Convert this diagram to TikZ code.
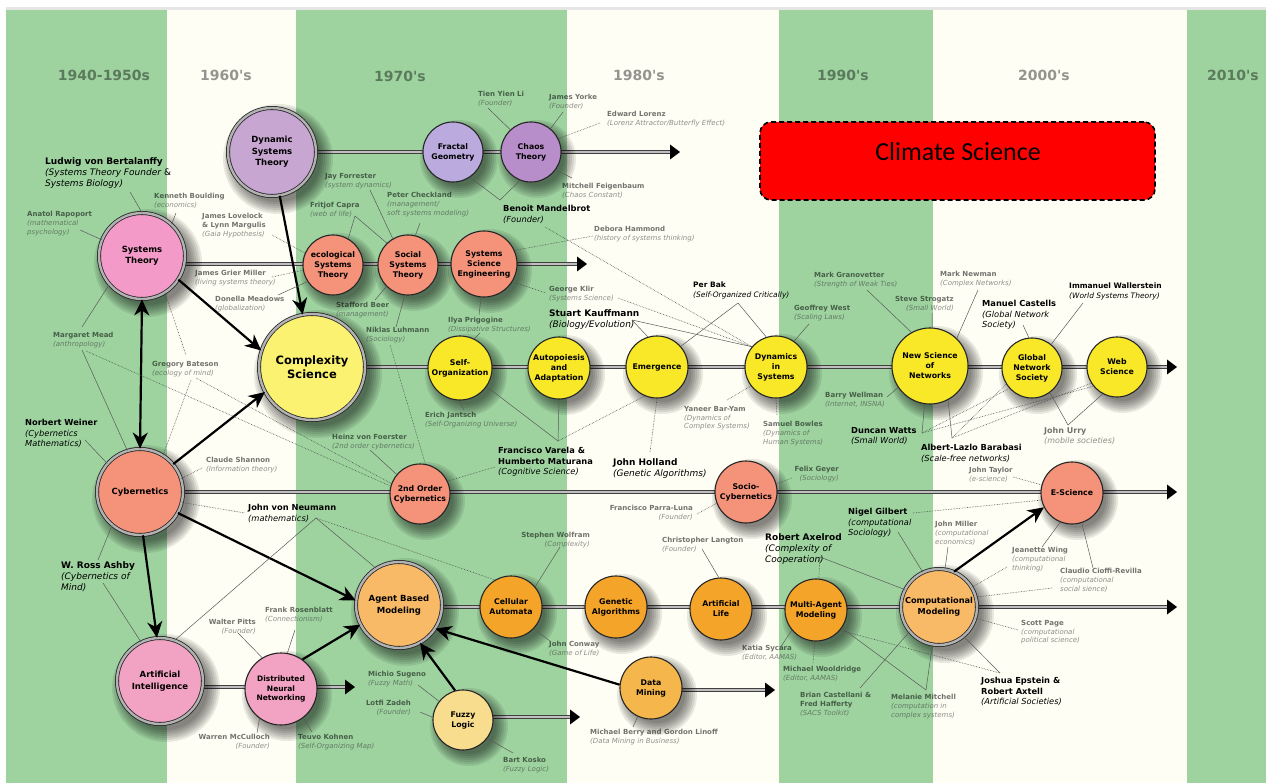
\documentclass[tikz,border=0pt]{standalone}
\usepackage{fontspec}
\setmainfont{DejaVu Sans}
\newfontfamily\decfont{DejaVu Sans}
\newfontfamily\calib{Carlito}
\usetikzlibrary{arrows.meta}
\definecolor{bgreen}{RGB}{158,211,160}
\definecolor{bcream}{RGB}{255,254,244}
\definecolor{cdst}{RGB}{200,166,210}
\definecolor{cfrac}{RGB}{186,170,222}
\definecolor{cchaos}{RGB}{184,142,202}
\definecolor{cpink}{RGB}{244,154,200}
\definecolor{csalmon}{RGB}{244,146,122}
\definecolor{ccplx}{RGB}{250,242,112}
\definecolor{cyel}{RGB}{248,232,40}
\definecolor{clor}{RGB}{248,186,102}
\definecolor{corange}{RGB}{245,164,42}
\definecolor{cdm}{RGB}{245,182,76}
\definecolor{cai}{RGB}{242,162,194}
\definecolor{cfuzzy}{RGB}{249,221,142}
\newcommand\dsc[1]{{\mdseries\itshape\color{black!80}#1}}
\newcommand\bdsc[1]{{\mdseries\itshape #1}}
\newcommand\shd[2]{\foreach \k in {0,...,6}{\fill[black, opacity=0.085] ([shift={(6,7)}]#1) circle [radius={(#2-3+2*\k)*1pt}];}}
\newcommand\railtip[1]{\fill (#1) -- ++(0,-7.5) -- ++(10,7.5) -- ++(-10,7.5) -- cycle;}
\tikzset{
 dec/.style={font=\decfont\fontsize{14}{16}\selectfont\bfseries, text=black, text opacity=0.42},
 circ/.style={circle, draw=black!85, line width=1.1pt, inner sep=0pt, align=center,
   font=\fontsize{7.8}{10}\selectfont\bfseries},
 bigc/.style={double=black!30, double distance=2.4pt, line width=0.8pt, font=\fontsize{8.5}{11.5}\selectfont\bfseries},
 gl/.style={anchor=north west, align=left, inner sep=0pt, font=\fontsize{7}{8.8}\selectfont\bfseries, text=black, text opacity=0.55},
 glr/.style={gl, anchor=north east, align=right},
 bl/.style={anchor=north west, align=left, inner sep=0pt, font=\fontsize{8.3}{10.5}\selectfont\bfseries, text=black},
 blbig/.style={bl, font=\fontsize{9}{11.3}\selectfont\bfseries},
 pl/.style={draw=black!65, line width=0.5pt},
 pd/.style={draw=black!70, line width=0.6pt, densely dotted},
 rail/.style={draw=black!75, line width=1pt, double=black!25, double distance=2pt},
 barrow/.style={draw=black, line width=2.2pt, -{Stealth[length=16pt,width=15pt,inset=5pt]}},
 barrow2/.style={draw=black, line width=2.2pt, {Stealth[length=16pt,width=15pt,inset=5pt]}-{Stealth[length=16pt,width=15pt,inset=5pt]}},
 climbox/.style={draw=black, line width=1.6pt, dash pattern=on 5pt off 3pt, fill=red, rounded corners=11pt, minimum width=395pt, minimum height=78pt, inner sep=0pt},
}
\begin{document}
\begin{tikzpicture}[x=1pt,y=-1pt]
\useasboundingbox (0,0) rectangle (1266,783);
\fill[white] (0,0) rectangle (1266,783);
\fill[black!10] (6,7.5) rectangle (1266,10);
\fill[bgreen] (6,10) rectangle (167,783);
\fill[bcream] (167,10) rectangle (296,783);
\fill[bgreen] (296,10) rectangle (567,783);
\fill[bcream] (567,10) rectangle (779,783);
\fill[bgreen] (779,10) rectangle (933,783);
\fill[bcream] (933,10) rectangle (1187,783);
\fill[bgreen] (1187,10) rectangle (1266,783);

% decades
\node[dec] (d40) at (104,75) {1940-1950s};
\node[dec] (d60) at (226,75) {1960's};
\node[dec] (d70) at (400,76) {1970's};
\node[dec] (d80) at (639,75) {1980's};
\node[dec] (d90) at (843,75) {1990's};
\node[dec] (d00) at (1044,75) {2000's};
\node[dec] (d10) at (1233,75) {2010's};

% climate box
\node[climbox] (clim) at (957.5,161) {};
\node[font=\calib\fontsize{26}{30}\selectfont] (climt) at (958,152) {Climate Science};

% circle centres
\coordinate (p-dst) at (272,152);
\coordinate (p-frac) at (453,152);
\coordinate (p-chaos) at (531,152);
\coordinate (p-sysT) at (142,256);
\coordinate (p-eco) at (333,265);
\coordinate (p-soc) at (408,265);
\coordinate (p-sse) at (484,264);
\coordinate (p-cplx) at (312,367);
\coordinate (p-selfo) at (460,368);
\coordinate (p-auto) at (559,368);
\coordinate (p-emer) at (657,367);
\coordinate (p-dyn) at (776,367);
\coordinate (p-nsn) at (930,366);
\coordinate (p-gns) at (1032,368);
\coordinate (p-web) at (1117,367);
\coordinate (p-cyb) at (140,492);
\coordinate (p-soc2) at (420,494);
\coordinate (p-socio) at (746,492);
\coordinate (p-esci) at (1072,493);
\coordinate (p-abm) at (399,605);
\coordinate (p-ca) at (511,607);
\coordinate (p-ga) at (616,607);
\coordinate (p-al) at (721,609);
\coordinate (p-mam) at (816,610);
\coordinate (p-cm) at (939,607);
\coordinate (p-dm) at (651,688);
\coordinate (p-ai) at (160,681);
\coordinate (p-dnn) at (281,689);
\coordinate (p-fuzzy) at (463,720);

% rails
\coordinate (r1e) at (670,152);
\draw[rail] (p-dst) -- (r1e); \railtip{r1e}
\coordinate (r2s) at (170,264); \coordinate (r2e) at (577,264);
\draw[rail] (r2s) -- (r2e); \railtip{r2e}
\coordinate (r3e) at (1167,367);
\draw[rail] (p-cplx) -- (r3e); \railtip{r3e}
\coordinate (r4e) at (1167,492);
\draw[rail] (p-cyb) -- (r4e); \railtip{r4e}
\coordinate (r5s) at (400,607); \coordinate (r5e) at (1167,607);
\draw[rail] (r5s) -- (r5e); \railtip{r5e}
\coordinate (r6s) at (165,687); \coordinate (r6e) at (345,687);
\draw[rail] (r6s) -- (r6e); \railtip{r6e}
\coordinate (r7s) at (465,717); \coordinate (r7e) at (570,717);
\draw[rail] (r7s) -- (r7e); \railtip{r7e}
\coordinate (r8s) at (651,690); \coordinate (r8e) at (765,690);
\draw[rail] (r8s) -- (r8e); \railtip{r8e}

% shadows
\shd{p-dst}{46} \shd{p-frac}{30} \shd{p-chaos}{30} \shd{p-sysT}{45}
\shd{p-eco}{30} \shd{p-soc}{30} \shd{p-sse}{33} \shd{p-cplx}{55}
\shd{p-selfo}{32} \shd{p-auto}{31} \shd{p-emer}{31} \shd{p-dyn}{31}
\shd{p-nsn}{38} \shd{p-gns}{30} \shd{p-web}{30} \shd{p-cyb}{45}
\shd{p-soc2}{30} \shd{p-socio}{31} \shd{p-esci}{31} \shd{p-abm}{45}
\shd{p-ca}{31} \shd{p-ga}{31} \shd{p-al}{31} \shd{p-mam}{31}
\shd{p-cm}{40} \shd{p-dm}{31} \shd{p-ai}{45} \shd{p-dnn}{36} \shd{p-fuzzy}{30}

% circles
\node[circ, bigc, fill=cdst, minimum size=88pt] (dst) at (p-dst) {Dynamic\\Systems\\Theory};
\node[circ, fill=cfrac, minimum size=60pt] (frac) at (p-frac) {Fractal\\Geometry};
\node[circ, fill=cchaos, minimum size=60pt] (chaos) at (p-chaos) {Chaos\\Theory};
\node[circ, bigc, fill=cpink, minimum size=86pt] (sysT) at (p-sysT) {Systems\\Theory};
\node[circ, fill=csalmon, minimum size=60pt] (eco) at (p-eco) {ecological\\Systems\\Theory};
\node[circ, fill=csalmon, minimum size=60pt] (soc) at (p-soc) {Social\\Systems\\Theory};
\node[circ, fill=csalmon, minimum size=66pt] (sse) at (p-sse) {Systems\\Science\\Engineering};
\node[circ, bigc, fill=ccplx, minimum size=106pt, font=\fontsize{11.5}{13.5}\selectfont\bfseries] (cplx) at (p-cplx) {Complexity\\Science};
\node[circ, fill=cyel, minimum size=64pt] (selfo) at (p-selfo) {Self-\\Organization};
\node[circ, fill=cyel, minimum size=62pt] (auto) at (p-auto) {Autopoiesis\\and\\Adaptation};
\node[circ, fill=cyel, minimum size=62pt] (emer) at (p-emer) {Emergence};
\node[circ, fill=cyel, minimum size=62pt] (dyn) at (p-dyn) {Dynamics\\in\\Systems};
\node[circ, fill=cyel, minimum size=76pt] (nsn) at (p-nsn) {New Science\\of\\Networks};
\node[circ, fill=cyel, minimum size=60pt] (gns) at (p-gns) {Global\\Network\\Society};
\node[circ, fill=cyel, minimum size=60pt] (web) at (p-web) {Web\\Science};
\node[circ, bigc, fill=csalmon, minimum size=86pt] (cyb) at (p-cyb) {Cybernetics};
\node[circ, fill=csalmon, minimum size=60pt] (soc2) at (p-soc2) {2nd Order\\Cybernetics};
\node[circ, fill=csalmon, minimum size=62pt] (socio) at (p-socio) {Socio-\\Cybernetics};
\node[circ, fill=csalmon, minimum size=62pt] (esci) at (p-esci) {E-Science};
\node[circ, bigc, fill=clor, minimum size=86pt] (abm) at (p-abm) {Agent Based\\Modeling};
\node[circ, fill=corange, minimum size=62pt] (ca) at (p-ca) {Cellular\\Automata};
\node[circ, fill=corange, minimum size=62pt] (ga) at (p-ga) {Genetic\\Algorithms};
\node[circ, fill=corange, minimum size=62pt] (al) at (p-al) {Artificial\\Life};
\node[circ, fill=corange, minimum size=62pt] (mam) at (p-mam) {Multi-Agent\\Modeling};
\node[circ, bigc, fill=clor, minimum size=76pt, font=\fontsize{8.2}{11}\selectfont\bfseries] (cm) at (p-cm) {Computational\\Modeling};
\node[circ, fill=cdm, minimum size=62pt] (dm) at (p-dm) {Data\\Mining};
\node[circ, bigc, fill=cai, minimum size=86pt] (ai) at (p-ai) {Artificial\\Intelligence};
\node[circ, fill=cai, minimum size=72pt, font=\fontsize{7.5}{9.5}\selectfont\bfseries] (dnn) at (p-dnn) {Distributed\\Neural\\Networking};
\node[circ, fill=cfuzzy, minimum size=60pt] (fuzzy) at (p-fuzzy) {Fuzzy\\Logic};

% big arrows
\draw[barrow] (dst.280) -- (cplx.100);
\draw[barrow] (sysT.-33) -- (cplx.162);
\draw[barrow2] (sysT.south) -- (cyb.north);
\draw[barrow] (cyb.40) -- (cplx.208);
\draw[barrow] (cyb.-29) -- (abm.174);
\draw[barrow] (cyb.-86) -- (ai.94);
\draw[barrow] (dnn.54) -- (abm.207);
\draw[barrow] (fuzzy.105) -- (abm.-61);
\draw[barrow] (dm.174) -- (abm.-33);
\draw[barrow] (cm.67) -- (esci.207);

% gray labels
\node[gl] (tien) at (478,91) {Tien Yien Li\\\dsc{(Founder)}};
\node[gl] (yorke) at (549,94) {James Yorke\\\dsc{(Founder)}};
\node[gl] (lorenz) at (607,111) {Edward Lorenz\\\dsc{(Lorenz Attractor/Butterfly Effect)}};
\node[gl] (feig) at (562,183) {Mitchell Feigenbaum\\\dsc{(Chaos Constant)}};
\node[gl] (forr) at (325,173) {Jay Forrester\\\dsc{(system dynamics)}};
\node[gl] (capra) at (310,202) {Fritjof Capra\\\dsc{(web of life)}};
\node[gl] (check) at (387,192) {Peter Checkland\\\dsc{(management/}\\\dsc{soft systems modeling)}};
\node[gl] (hammond) at (594,226) {Debora Hammond\\\dsc{(history of systems thinking)}};
\node[gl] (boulding) at (154,193) {Kenneth Boulding\\\dsc{(economics)}};
\node[gl] (rapoport) at (27,211) {Anatol Rapoport\\\dsc{(mathematical}\\\dsc{psychology)}};
\node[gl] (lovelock) at (202,213) {James Lovelock\\\& Lynn Margulis\\\dsc{(Gaia Hypothesis)}};
\node[gl] (jgmiller) at (195,270) {James Grier Miller\\\dsc{(living systems theory)}};
\node[gl] (meadows) at (215,296) {Donella Meadows\\\dsc{(globalization)}};
\node[gl] (beer) at (336,302) {Stafford Beer\\\dsc{(management)}};
\node[gl] (luhmann) at (366,327) {Niklas Luhmann\\\dsc{(Sociology)}};
\node[gl] (prig) at (448,317) {Ilya Prigogine\\\dsc{(Dissipative Structures)}};
\node[gl] (klir) at (549,286) {George Klir\\\dsc{(Systems Science)}};
\node[gl] (gran) at (814,272) {Mark Granovetter\\\dsc{(Strength of Weak Ties)}};
\node[gl] (west) at (794,305) {Geoffrey West\\\dsc{(Scaling Laws)}};
\node[glr] (strog) at (954,296) {Steve Strogatz\\\dsc{(Small World)}};
\node[gl] (newman) at (940,271) {Mark Newman\\\dsc{(Complex Networks)}};
\node[gl] (wellman) at (825,392) {Barry Wellman\\\dsc{(Internet, INSNA)}};
\node[gl] (bowles) at (763,421) {Samuel Bowles\\\dsc{(Dynamics of}\\\dsc{Human Systems)}};
\node[gl] (baryam) at (684,406) {Yaneer Bar-Yam\\\dsc{(Dynamics of}\\\dsc{Complex Systems)}};
\node[gl] (jantsch) at (425,412) {Erich Jantsch\\\dsc{(Self-Organizing Universe)}};
\node[gl] (foerster) at (332,434) {Heinz von Foerster\\\dsc{(2nd order cybernetics)}};
\node[gl] (bateson) at (152,361) {Gregory Bateson\\\dsc{(ecology of mind)}};
\node[gl] (mead) at (53,332) {Margaret Mead\\\dsc{(anthropology)}};
\node[gl] (shannon) at (206,457) {Claude Shannon\\\dsc{(Information theory)}};
\node[gl, font=\fontsize{8}{10.5}\selectfont\bfseries] (urry) at (1044,427) {John Urry\\\dsc{(mobile societies)}};
\node[gl] (taylor) at (969,467) {John Taylor\\\dsc{(e-science)}};
\node[glr] (pitts) at (256,619) {Walter Pitts\\\dsc{(Founder)}};
\node[gl] (rosen) at (265,607) {Frank Rosenblatt\\\dsc{(Connectionism)}};
\node[glr] (mcc) at (270,734) {Warren McCulloch\\\dsc{(Founder)}};
\node[gl] (kohnen) at (298,734) {Teuvo Kohnen\\\dsc{(Self-Organizing Map)}};
\node[gl] (sugeno) at (368,671) {Michio Sugeno\\\dsc{(Fuzzy Math)}};
\node[glr] (zadeh) at (411,700) {Lotfi Zadeh\\\dsc{(Founder)}};
\node[gl] (kosko) at (503,757) {Bart Kosko\\\dsc{(Fuzzy Logic)}};
\node[glr] (wolfram) at (590,532) {Stephen Wolfram\\\dsc{(Complexity)}};
\node[gl] (conway) at (549,641) {John Conway\\\dsc{(Game of Life)}};
\node[gl] (berry) at (590,729) {Michael Berry and Gordon Linoff\\\dsc{(Data Mining in Business)}};
\node[glr] (parra) at (693,505) {Francisco Parra-Luna\\\dsc{(Founder)}};
\node[glr] (geyer) at (839,466) {Felix Geyer\\\dsc{(Sociology)}};
\node[gl] (langton) at (662,537) {Christopher Langton\\\dsc{(Founder)}};
\node[gl] (jmiller) at (935,521) {John Miller\\\dsc{(computational}\\\dsc{economics)}};
\node[gl] (wing) at (1012,547) {Jeanette Wing\\\dsc{(computational}\\\dsc{thinking)}};
\node[gl] (cioffi) at (1060,568) {Claudio Cioffi-Revilla\\\dsc{(computational}\\\dsc{social sience)}};
\node[gl] (page) at (1021,620) {Scott Page\\\dsc{(computational}\\\dsc{political science)}};
\node[gl] (sycara) at (742,645) {Katia Sycara\\\dsc{(Editor, AAMAS)}};
\node[gl] (wool) at (783,666) {Michael Wooldridge\\\dsc{(Editor, AAMAS)}};
\node[gl] (castel) at (800,692) {Brian Castellani \&\\Fred Hafferty\\\dsc{(SACS Toolkit)}};
\node[gl] (mitch) at (891,694) {Melanie Mitchell\\\dsc{(computation in}\\\dsc{complex systems)}};

% black labels
\node[blbig] (bert) at (45,157) {Ludwig von Bertalanffy\\\bdsc{(Systems Theory Founder} {\mdseries\&}\\\bdsc{Systems Biology)}};
\node[bl] (mand) at (503,205) {Benoit Mandelbrot\\\bdsc{(Founder)}};
\node[blbig] (kauff) at (549,309) {Stuart Kauffmann\\\bdsc{(Biology/Evolution)}};
\node[bl, font=\fontsize{7.5}{9.5}\selectfont\bfseries] (bak) at (693,282) {Per Bak\\\bdsc{(Self-Organized Critically)}};
\node[bl] (varela) at (498,447) {Francisco Varela \&\\Humberto Maturana\\\bdsc{(Cognitive Science)}};
\node[blbig] (holland) at (613,458) {John Holland\\\bdsc{(Genetic Algorithms)}};
\node[bl] (weiner) at (25,419) {Norbert Weiner\\\bdsc{(Cybernetics}\\\bdsc{Mathematics)}};
\node[bl] (neumann) at (248,504) {John von Neumann\\\bdsc{(mathematics)}};
\node[blbig] (ashby) at (61,561) {W. Ross Ashby\\\bdsc{(Cybernetics of}\\\bdsc{Mind)}};
\node[bl] (watts) at (851,427) {Duncan Watts\\\bdsc{(Small World)}};
\node[bl] (barab) at (921,444) {Albert-Lazlo Barabasi\\\bdsc{(Scale-free networks)}};
\node[bl] (castells) at (982,300) {Manuel Castells\\\bdsc{(Global Network}\\\bdsc{Society)}};
\node[bl, font=\fontsize{7.5}{9.5}\selectfont\bfseries] (waller) at (1069,283) {Immanuel Wallerstein\\\bdsc{(World Systems Theory)}};
\node[bl] (gilbert) at (848,508) {Nigel Gilbert\\\bdsc{(computational}\\\bdsc{Sociology)}};
\node[blbig] (axel) at (765,533) {Robert Axelrod\\\bdsc{(Complexity of}\\\bdsc{Cooperation)}};
\node[bl] (epstein) at (981,677) {Joshua Epstein \&\\Robert Axtell\\\bdsc{(Artificial Societies)}};

% label connectors
\coordinate (e-tien) at (488,108); \draw[pl] (e-tien) -- (chaos.133);
\coordinate (e-yorke) at (563,112); \draw[pl] (e-yorke) -- (chaos.50);
\coordinate (e-lorenz) at (600,123); \draw[pd] (e-lorenz) -- (chaos.26);
\coordinate (e-feig) at (572,178); \draw[pl] (e-feig) -- (chaos.-36);
\coordinate (e-mand) at (500,200); \draw[pl] (frac.-56) -- (e-mand) -- (chaos.-111);
\coordinate (e-mand2) at (545,227); \draw[pd] (e-mand2) -- (dyn.140);
\coordinate (e-forr) at (370,190); \draw[pl] (e-forr) -- (soc.120);
\coordinate (e-capra) at (355,216); \draw[pl] (eco.60) -- (e-capra) -- (soc.134);
\coordinate (e-check) at (420,223); \draw[pl] (e-check) -- (soc.76);
\coordinate (e-hammond) at (593,236); \draw[pd] (e-hammond) -- (sse.24);
\coordinate (e-bould) at (176,213); \draw[pl] (e-bould) -- (sysT.47);
\coordinate (e-bert) at (130,192); \draw[pl] (e-bert) -- (sysT.90);
\coordinate (e-rap) at (80,230); \draw[pl] (e-rap) -- (sysT.158);
\coordinate (e-love) at (272,235); \draw[pd] (e-love) -- (eco.157);
\coordinate (e-jgm) at (272,277); \draw[pd] (e-jgm) -- (eco.190);
\coordinate (e-meadows) at (278,295); \draw[pl] (e-meadows) -- (eco.213);
\coordinate (e-beer) at (375,300); \draw[pl] (e-beer) -- (soc.225);
\coordinate (e-luh1) at (396,327); \draw[pl] (soc.264) -- (e-luh1);
\coordinate (e-luh2) at (390,345); \draw[pd] (e-luh2) -- (soc2.80);
\coordinate (e-prig1) at (479,315); \draw[pl] (sse.265) -- (e-prig1);
\coordinate (e-prig2) at (480,333); \draw[pl] (e-prig2) -- (selfo.64);
\coordinate (e-klir1) at (546,293); \draw[pd] (sse.-32) -- (e-klir1);
\coordinate (e-klir2) at (618,298); \draw[pd] (e-klir2) -- (dyn.140);
\coordinate (e-kauff) at (632,320); \draw[pl] (e-kauff) -- (emer.107); \draw[pl] (e-kauff) -- (dyn.140);
\coordinate (e-bak) at (738,303); \draw[pl] (emer.41) -- (e-bak) -- (dyn.108);
\coordinate (e-gran) at (867,290); \draw[pl] (e-gran) -- (nsn.119);
\coordinate (e-west) at (809,324); \draw[pl] (e-west) -- (dyn.55);
\coordinate (e-strog) at (932,313); \draw[pl] (e-strog) -- (nsn.87);
\coordinate (e-newman) at (978,290); \draw[pl] (e-newman) -- (nsn.46);
\coordinate (e-waller) at (1083,303); \draw[pl] (e-waller) -- (gns.51);
\coordinate (e-castells) at (1023,325); \draw[pl] (e-castells) -- (gns.96);
\coordinate (e-wellman) at (887,397); \draw[pl] (e-wellman) -- (nsn.214);
\coordinate (e-bowles) at (777,415); \draw[pd] (e-bowles) -- (dyn.270);
\coordinate (e-baryam) at (727,400); \draw[pd] (e-baryam) -- (dyn.217);
\coordinate (e-holland) at (650,452); \draw[pd] (e-holland) -- (emer.270);
\coordinate (e-varela) at (558,441); \draw[pl] (selfo.-35) -- (e-varela) -- (auto.270); \draw[pd] (e-varela) -- (emer.247);
\coordinate (e-varela2) at (495,467); \draw[pd] (e-varela2) -- (soc2.25);
\coordinate (e-jantsch) at (464,410); \draw[pl] (e-jantsch) -- (selfo.268);
\coordinate (e-foerster) at (370,450); \draw[pl] (e-foerster) -- (soc2.140);
\coordinate (e-bat1) at (186,355); \draw[pd] (sysT.-58) -- (e-bat1);
\coordinate (e-bat2) at (191,380); \draw[pd] (e-bat2) -- (cyb.58);
\coordinate (e-bat3) at (196,378); \draw[pd] (e-bat3) -- (soc2.160);
\coordinate (e-mead1) at (82,327); \draw[pl] (sysT.221) -- (e-mead1);
\coordinate (e-mead2) at (82,350); \draw[pl] (e-mead2) -- (cyb.107);
\coordinate (e-mead3) at (86,351); \draw[pd] (e-mead3) -- (soc2.165);
\coordinate (e-weiner) at (85,440); \draw[pl] (e-weiner) -- (cyb.139);
\coordinate (e-shannon) at (202,468); \draw[pd] (e-shannon) -- (cyb.18);
\coordinate (e-neu1) at (245,513); \draw[pd] (cyb.-14) -- (e-neu1);
\coordinate (e-neu2) at (316,518); \draw[pl] (e-neu2) -- (abm.122); \draw[pd] (e-neu2) -- (ca.121); \draw[pl] (e-neu2) -- (ai.70);
\coordinate (e-ashby1) at (98,560); \draw[pl] (cyb.230) -- (e-ashby1);
\coordinate (e-ashby2) at (103,583); \draw[pl] (e-ashby2) -- (ai.116);
\coordinate (e-pitts) at (238,633); \draw[pl] (e-pitts) -- (dnn.121);
\coordinate (e-rosen) at (295,630); \draw[pl] (e-rosen) -- (dnn.80);
\coordinate (e-mcc) at (257,733); \draw[pl] (e-mcc) -- (dnn.234);
\coordinate (e-kohnen) at (312,732); \draw[pl] (e-kohnen) -- (dnn.-52);
\coordinate (e-sugeno) at (418,685); \draw[pl] (e-sugeno) -- (fuzzy.142);
\coordinate (e-zadeh) at (420,712); \draw[pl] (e-zadeh) -- (fuzzy.175);
\coordinate (e-kosko) at (513,753); \draw[pl] (e-kosko) -- (fuzzy.-37);
\coordinate (e-wolfram) at (560,547); \draw[pl] (e-wolfram) -- (ca.40);
\coordinate (e-conway) at (550,641); \draw[pl] (e-conway) -- (ca.-44);
\coordinate (e-berry) at (633,727); \draw[pl] (e-berry) -- (dm.245);
\coordinate (e-parra) at (697,514); \draw[pd] (e-parra) -- (socio.201);
\coordinate (e-geyer) at (792,478); \draw[pd] (e-geyer) -- (socio.15);
\coordinate (e-langton) at (702,549); \draw[pl] (e-langton) -- (al.94);
\coordinate (e-axel) at (820,557); \draw[pd] (e-axel) -- (mam.85); \draw[pl] (e-axel) -- (cm.153);
\coordinate (e-gil1) at (898,532); \draw[pl] (e-gil1) -- (cm.115);
\coordinate (e-gil2) at (913,513); \draw[pd] (e-gil2) -- (esci.193);
\coordinate (e-jmiller) at (948,547); \draw[pl] (e-jmiller) -- (cm.81);
\coordinate (e-wing1) at (1042,547); \draw[pl] (e-wing1) -- (esci.248);
\coordinate (e-wing2) at (1007,567); \draw[pd] (e-wing2) -- (cm.31);
\coordinate (e-cio1) at (1093,568); \draw[pl] (e-cio1) -- (esci.-72);
\coordinate (e-cio2) at (1052,588); \draw[pd] (e-cio2) -- (cm.15);
\coordinate (e-page) at (1018,630); \draw[pd] (e-page) -- (cm.-17);
\coordinate (e-epstein) at (1000,673); \draw[pl] (e-epstein) -- (cm.-50); \draw[pd] (mam.-40) -- (e-epstein);
\coordinate (e-sycara) at (780,648); \draw[pl] (e-sycara) -- (mam.220);
\coordinate (e-wool) at (813,663); \draw[pd] (e-wool) -- (mam.268);
\coordinate (e-castel) at (860,688); \draw[pl] (e-castel) -- (cm.220);
\coordinate (e-mitch) at (926,690); \draw[pl] (e-mitch) -- (cm.260); \draw[pl] (e-mitch) -- (mam.-35);
\coordinate (e-watts) at (922,433); \draw[pl] (e-watts) -- (nsn.262); \draw[pd] (e-watts) -- (gns.222); \draw[pd] (e-watts) -- (web.219);
\coordinate (e-barab) at (952,438); \draw[pl] (e-barab) -- (nsn.-62); \draw[pd] (e-barab) -- (gns.212); \draw[pd] (e-barab) -- (web.212);
\coordinate (e-urry) at (1068,425); \draw[pl] (gns.-54) -- (e-urry) -- (web.242);
\coordinate (e-taylor) at (1013,477); \draw[pd] (e-taylor) -- (esci.165);
\end{tikzpicture}
\end{document}
